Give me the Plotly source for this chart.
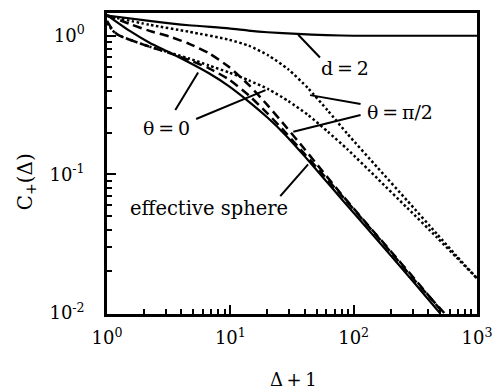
import math
import plotly.graph_objects as go

# ---- data: C+(Δ) against Δ+1 ----
d2_x = [1, 2.2, 4.6, 9.7, 14, 20, 35, 60, 100, 1000]
d2_y = [1.40, 1.28, 1.19, 1.13, 1.09, 1.06, 1.03, 1.01, 1.00, 1.00]

sphere_x = [1, 1.53, 2.21, 3.21, 4.64, 6.71, 9.72, 14.1, 20.0, 28.2, 39.8, 56.2, 79.4, 126, 200, 316, 500]
sphere_y = [1.41, 1.084, 0.891, 0.757, 0.641, 0.536, 0.433, 0.335, 0.257, 0.191, 0.136, 0.0955, 0.0668,
            0.0417, 0.0260, 0.0162, 0.0100]

dash_a_x = [1, 1.53, 2.21, 3.21, 4.64, 6.71, 9.72, 14.1, 20.0, 28.2, 39.8, 56.2, 79.4, 126, 200, 316, 500, 535]
dash_a_y = [1.41, 1.216, 1.084, 0.986, 0.875, 0.748, 0.597, 0.442, 0.316, 0.221, 0.153, 0.1047, 0.0721,
            0.0447, 0.0279, 0.0174, 0.0107, 0.0100]

dash_b_x = [1, 1.096, 1.225, 1.53, 2.21, 3.21, 4.64, 6.71, 9.72, 14.1, 20.0, 28.2, 39.8, 56.2, 79.4, 126, 200,
            316, 543]
dash_b_y = [1.28, 1.122, 1.016, 0.935, 0.834, 0.750, 0.668, 0.582, 0.484, 0.372, 0.275, 0.1995, 0.141, 0.100,
            0.0708, 0.0442, 0.0275, 0.0170, 0.0100]

dot_a_x = [1, 2.21, 4.64, 9.72, 14.1, 20.4, 29.5, 42.7, 61.8, 89.5, 156, 272, 473, 684, 1000]
dot_a_y = [1.39, 1.20, 1.068, 0.936, 0.848, 0.720, 0.572, 0.418, 0.288, 0.195, 0.112, 0.0646, 0.0372,
           0.0257, 0.0178]

dot_b_x = [1, 1.096, 1.225, 1.53, 2.21, 3.21, 4.64, 6.71, 9.72, 14.1, 20.4, 29.5, 42.7, 61.8, 89.5, 156, 272,
           473, 684, 1000]
dot_b_y = [1.24, 1.104, 1.016, 0.936, 0.835, 0.756, 0.685, 0.610, 0.544, 0.477, 0.411, 0.338, 0.268, 0.203,
           0.151, 0.0933, 0.0573, 0.0351, 0.0251, 0.0178]

x_ticks = [1, 10, 100, 1000]
x_tick_text = ["10<sup>0</sup>", "10<sup>1</sup>", "10<sup>2</sup>", "10<sup>3</sup>"]
y_ticks = [0.01, 0.1, 1]
y_tick_text = ["10<sup>-2</sup>", "10<sup>-1</sup>", "10<sup>0</sup>"]

# leader lines joining labels to curves: ((x0, y0), (x1, y1))
leaders = [
    ((35.5, 1.016), (53.3, 0.696)),      # d = 2
    ((44.3, 0.373), (113.8, 0.322)),     # θ = π/2
    ((32.4, 0.203), (113.8, 0.268)),     # θ = π/2
    ((3.58, 0.291), (5.48, 0.544)),      # θ = 0
    ((5.28, 0.251), (19.3, 0.405)),      # θ = 0
    ((25.4, 0.0696), (42.7, 0.118)),     # effective sphere
]

# label text, position (x, y in data units) and font size
THIN = "\u2009"
labels = [
    (f"d{THIN}={THIN}2", 84.7, 0.59, 19),
    (f"θ{THIN}={THIN}π/2", 239, 0.282, 19),
    (f"θ{THIN}={THIN}0", 3.03, 0.217, 19),
    ("effective sphere", 6.72, 0.0572, 19.5),
]

FONT = "DejaVu Serif"
BLACK = "#000000"

fig = go.Figure()

def curve(x, y, dash, width):
    fig.add_trace(go.Scatter(x=x, y=y, mode="lines",
                             line=dict(color=BLACK, width=width, dash=dash, shape="spline", smoothing=0.6),
                             showlegend=False, hoverinfo="skip"))

curve(d2_x, d2_y, "solid", 2.2)
curve(sphere_x, sphere_y, "solid", 2.2)
curve(dash_a_x, dash_a_y, "9px,5px", 2.5)
curve(dash_b_x, dash_b_y, "9px,5px", 2.5)
curve(dot_a_x, dot_a_y, "2.5px,2.5px", 2.5)
curve(dot_b_x, dot_b_y, "2.5px,2.5px", 2.5)

for (x0, y0), (x1, y1) in leaders:
    fig.add_trace(go.Scatter(x=[x0, x1], y=[y0, y1], mode="lines",
                             line=dict(color=BLACK, width=2),
                             showlegend=False, hoverinfo="skip"))

for text, lx, ly, fs in labels:
    fig.add_annotation(x=math.log10(lx), y=math.log10(ly), xref="x", yref="y",
                       text=text, showarrow=False,
                       font=dict(family=FONT, size=fs, color=BLACK),
                       xanchor="center", yanchor="middle")

minor_x = [m * 10 ** k for k in range(0, 3) for m in range(2, 10)]
minor_y = [m * 10 ** k for k in range(-2, 0) for m in range(2, 10)]

axis_common = dict(type="log", showgrid=False, zeroline=False,
                   showline=True, linecolor=BLACK, linewidth=2.5, mirror=True,
                   ticks="inside", ticklen=9, tickwidth=2, tickcolor=BLACK,
                   tickfont=dict(family=FONT, size=18, color=BLACK))

fig.update_layout(
    width=502, height=391,
    margin=dict(l=107, r=21, t=10, b=77),
    paper_bgcolor="white", plot_bgcolor="white",
    font=dict(family=FONT, color=BLACK),
    xaxis=dict(range=[0, 3], tickmode="array", tickvals=x_ticks, ticktext=x_tick_text,
               minor=dict(tickmode="array", tickvals=minor_x, ticks="inside", ticklen=5,
                          tickwidth=2, tickcolor=BLACK),
               ticklabelstandoff=6, **axis_common),
    yaxis=dict(range=[-2.007, 0.164], tickmode="array", tickvals=y_ticks, ticktext=y_tick_text,
               minor=dict(tickmode="array", tickvals=minor_y, ticks="inside", ticklen=5,
                          tickwidth=2, tickcolor=BLACK),
               ticklabelstandoff=16, **axis_common),
    # small mirror ticks along the top and right edges
    xaxis2=dict(type="log", range=[0, 3], overlaying="x", side="top", showgrid=False,
                showline=False, showticklabels=False, ticks="inside", ticklen=3, tickwidth=1.5,
                tickcolor=BLACK, tickmode="array", tickvals=x_ticks + minor_x),
    yaxis2=dict(type="log", range=[-2.007, 0.164], overlaying="y", side="right", showgrid=False,
                showline=False, showticklabels=False, ticks="inside", ticklen=3, tickwidth=1.5,
                tickcolor=BLACK, tickmode="array", tickvals=y_ticks + minor_y),
)

# axis titles
fig.add_annotation(x=0.505, y=-0.217, xref="paper", yref="paper", text=f"Δ{THIN}+{THIN}1",
                   showarrow=False, font=dict(family=FONT, size=18, color=BLACK),
                   xanchor="center", yanchor="middle")
fig.add_annotation(x=-0.219, y=0.441, xref="paper", yref="paper", text="C<sub>+</sub>(Δ)",
                   showarrow=False, textangle=-90, font=dict(family=FONT, size=20, color=BLACK),
                   xanchor="center", yanchor="middle")

fig.write_html("out.html")
